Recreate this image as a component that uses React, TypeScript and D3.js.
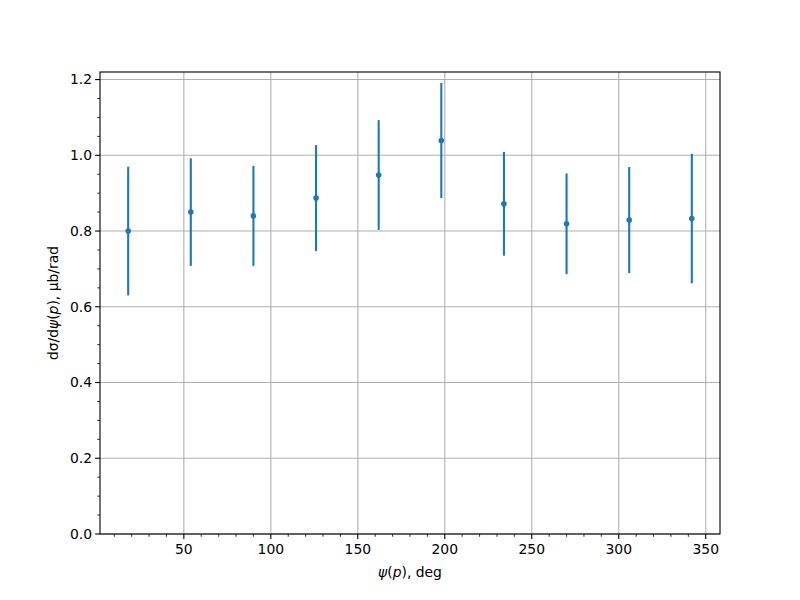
import * as d3 from "d3";
import React from "react";

// angle bins (deg), cross-section values and symmetric errors
const psiDeg = [18, 54, 90, 126, 162, 198, 234, 270, 306, 342];
const dsig = [0.8, 0.85, 0.84, 0.887, 0.948, 1.039, 0.872, 0.819, 0.829, 0.833];
const dsigErr = [0.17, 0.142, 0.132, 0.14, 0.145, 0.152, 0.137, 0.133, 0.14, 0.171];

const xTicks = [50, 100, 150, 200, 250, 300, 350];
const yTicks = [0, 0.2, 0.4, 0.6, 0.8, 1.0, 1.2];

const W = 800, H = 600;
const margin = { left: 100, right: 80, top: 72, bottom: 66 };
const FONT = "DejaVu Sans, sans-serif";
const BLUE = "#1f77b4";

export default function App() {
  const x = d3.scaleLinear().domain([1.8, 358.2]).range([margin.left, W - margin.right]);
  const y = d3.scaleLinear().domain([0, 1.22]).range([H - margin.bottom, margin.top]);
  const [x0, x1] = x.range();
  const [y0, y1] = y.range();

  // minor ticks every 10 deg / 0.05
  const xMinor = d3.range(10, 360, 10).filter((v) => v % 50 !== 0 && v >= 1.8);
  const yMinor = d3.range(0.05, 1.22, 0.05).filter((v) => Math.abs(v * 5 - Math.round(v * 5)) > 1e-6);

  return (
    <svg width={W} height={H} style={{ position: "absolute", left: 0, top: 0, background: "#fff" }} fontFamily={FONT}>
      <rect width={W} height={H} fill="#fff" />
      {/* grid */}
      {xTicks.map((t) => (
        <line key={"gx" + t} x1={x(t)} x2={x(t)} y1={y0} y2={y1} stroke="#b0b0b0" strokeWidth={1.1} />
      ))}
      {yTicks.map((t) => (
        <line key={"gy" + t} x1={x0} x2={x1} y1={y(t)} y2={y(t)} stroke="#b0b0b0" strokeWidth={1.1} />
      ))}

      {/* error bars + points */}
      {psiDeg.map((p, i) => (
        <g key={"e" + p}>
          <line x1={x(p)} x2={x(p)} y1={y(dsig[i] - dsigErr[i])} y2={y(dsig[i] + dsigErr[i])} stroke={BLUE} strokeWidth={2.1} />
          <circle cx={x(p)} cy={y(dsig[i])} r={2.8} fill={BLUE} />
        </g>
      ))}

      {/* frame */}
      <rect x={x0} y={y1} width={x1 - x0} height={y0 - y1} fill="none" stroke="#000" strokeWidth={1.1} />

      {/* x ticks */}
      {xTicks.map((t) => (
        <g key={"tx" + t}>
          <line x1={x(t)} x2={x(t)} y1={y0} y2={y0 + 4.9} stroke="#000" strokeWidth={1.1} />
          <text x={x(t)} y={y0 + 20} textAnchor="middle" fontSize={13.9}>{t}</text>
        </g>
      ))}
      {xMinor.map((t) => (
        <line key={"mx" + t} x1={x(t)} x2={x(t)} y1={y0} y2={y0 + 2.8} stroke="#000" strokeWidth={0.8} />
      ))}

      {/* y ticks */}
      {yTicks.map((t) => (
        <g key={"ty" + t}>
          <line x1={x0 - 4.9} x2={x0} y1={y(t)} y2={y(t)} stroke="#000" strokeWidth={1.1} />
          <text x={x0 - 8} y={y(t)} dy="0.35em" textAnchor="end" fontSize={13.9}>{t.toFixed(1)}</text>
        </g>
      ))}
      {yMinor.map((t) => (
        <line key={"my" + t.toFixed(2)} x1={x0 - 2.8} x2={x0} y1={y(t)} y2={y(t)} stroke="#000" strokeWidth={0.8} />
      ))}

      {/* axis labels */}
      <text x={(x0 + x1) / 2} y={577} textAnchor="middle" fontSize={13.9}>
        <tspan fontStyle="italic">ψ</tspan>(<tspan fontStyle="italic">p</tspan>), deg
      </text>
      <text transform={`translate(58,${(y0 + y1) / 2}) rotate(-90)`} textAnchor="middle" fontSize={13.9}>
        dσ/d<tspan fontStyle="italic">ψ</tspan>(<tspan fontStyle="italic">p</tspan>), μb/rad
      </text>
    </svg>
  );
}
